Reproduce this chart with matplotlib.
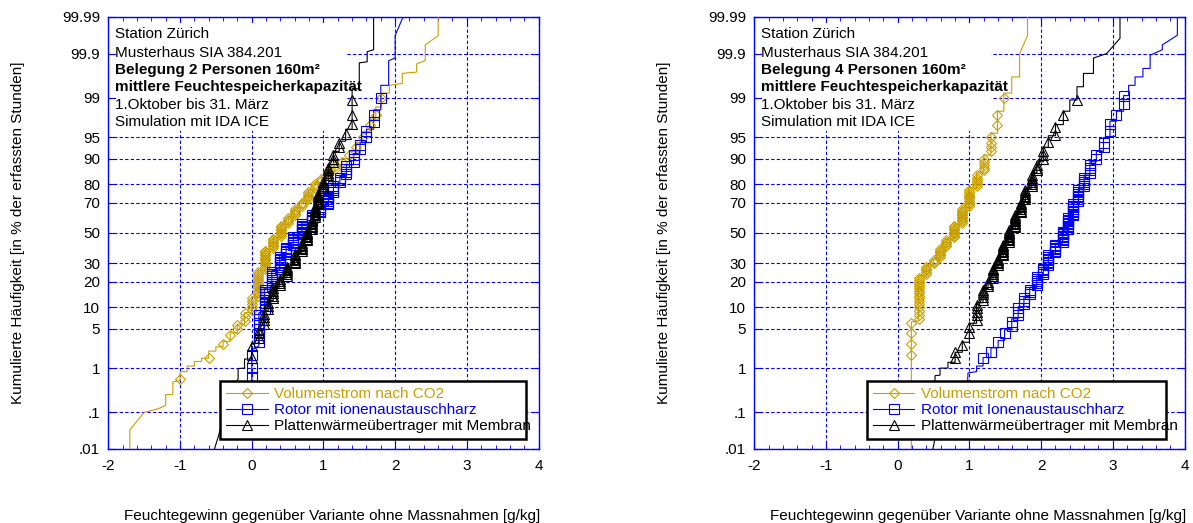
import matplotlib
matplotlib.use("Agg")
import matplotlib.pyplot as plt
from matplotlib.lines import Line2D
from matplotlib.patches import Rectangle
from matplotlib.ticker import MultipleLocator
from statistics import NormalDist

plt.rcParams['font.family'] = ['Liberation Sans', 'DejaVu Sans']
plt.rcParams['axes.unicode_minus'] = False

# probability axis (cumulative % of counted hours)
p_ticks = [0.01, 0.1, 1, 5, 10, 20, 30, 50, 70, 80, 90, 95, 99, 99.9, 99.99]
p_labels = ['.01', '.1', '1', '5', '10', '20', '30', '50', '70', '80', '90', '95', '99', '99.9', '99.99']
x_ticks = [-2, -1, 0, 1, 2, 3, 4]

labels_2p = ['Volumenstrom nach CO2', 'Rotor mit ionenaustauschharz', 'Plattenwärmeübertrager mit Membran']
labels_4p = ['Volumenstrom nach CO2', 'Rotor mit Ionenaustauschharz', 'Plattenwärmeübertrager mit Membran']
colors = ['#C8A000', '#0000FF', '#000000']
markers = ['D', 's', '^']
msizes = [5.5, 7, 7.5]

info_2p = ['Station Zürich', 'Musterhaus SIA 384.201', 'Belegung 2 Personen 160m²',
           'mittlere Feuchtespeicherkapazität', '1.Oktober bis 31. März', 'Simulation mit IDA ICE']
info_4p = ['Station Zürich', 'Musterhaus SIA 384.201', 'Belegung 4 Personen 160m²',
           'mittlere Feuchtespeicherkapazität', '1.Oktober bis 31. März', 'Simulation mit IDA ICE']

xlabel = 'Feuchtegewinn gegenüber Variante ohne Massnahmen [g/kg]'
ylabel = 'Kumulierte Häufigkeit [in % der erfassten Stunden]'

# ---- 2 Personen: curve vertices (x [g/kg], cumulative %) ----
co2_2p = [(-1.70, .01), (-1.70, .035), (-1.50, .10), (-1.30, .125), (-1.20, .15), (-1.20, .27),
          (-1.10, .27), (-1.10, .52), (-1.00, .55), (-1.00, .85), (-0.90, .85), (-0.90, 1.1),
          (-0.80, 1.1), (-0.80, 1.35), (-0.70, 1.35), (-0.70, 1.55), (-0.60, 1.55), (-0.60, 2.1),
          (-0.50, 2.1), (-0.50, 2.5), (-0.40, 2.5), (-0.40, 3.1), (-0.30, 3.1), (-0.30, 4.3),
          (-0.20, 4.3), (-0.20, 5.8), (-0.10, 5.8), (-0.10, 8.5), (0.00, 8.5), (0.00, 13.5),
          (0.09, 13.5), (0.09, 26), (0.19, 26), (0.19, 39), (0.30, 39), (0.30, 47), (0.41, 47),
          (0.41, 56), (0.51, 56), (0.51, 61), (0.60, 61), (0.60, 67), (0.70, 67), (0.70, 71),
          (0.79, 71), (0.79, 77), (0.88, 77), (0.88, 80.5), (0.97, 80.5), (0.97, 83), (1.06, 83),
          (1.06, 85.5), (1.16, 85.5), (1.16, 88), (1.26, 88), (1.26, 90), (1.36, 90), (1.36, 92),
          (1.46, 92), (1.46, 94), (1.55, 94), (1.55, 96), (1.65, 96), (1.65, 97.5), (1.73, 97.5),
          (1.73, 98.5), (1.81, 98.5), (1.81, 99.2), (1.92, 99.2), (1.92, 99.45), (2.10, 99.5),
          (2.10, 99.7), (2.30, 99.72), (2.30, 99.82), (2.42, 99.85), (2.42, 99.94), (2.60, 99.966),
          (2.60, 99.99)]
rotor_2p = [(0.00, .05), (0.00, 2.2), (0.10, 2.6), (0.10, 8.5), (0.18, 8.8), (0.18, 17), (0.28, 17.5),
            (0.28, 26), (0.39, 26), (0.39, 35), (0.48, 35), (0.48, 41), (0.58, 41), (0.58, 48),
            (0.70, 48), (0.70, 57), (0.84, 57), (0.84, 63), (0.95, 63), (0.95, 68), (1.07, 68),
            (1.07, 75), (1.14, 75), (1.14, 80), (1.23, 80), (1.23, 83.5), (1.32, 83.5), (1.32, 88),
            (1.42, 88), (1.42, 91.5), (1.51, 91.5), (1.51, 94), (1.60, 94), (1.60, 96.3), (1.70, 96.3),
            (1.70, 98.3), (1.80, 98.3), (1.80, 99.45), (1.91, 99.45), (1.91, 99.85), (2.00, 99.87),
            (2.00, 99.966), (2.11, 99.99)]
platte_2p = [(-0.52, .01), (-0.46, .025), (-0.30, .3), (-0.19, .6), (-0.19, .98), (-0.10, 1.0),
             (-0.10, 1.5), (0.00, 1.5), (0.00, 2.8), (0.10, 2.9), (0.10, 5.0), (0.17, 5.0), (0.17, 9.0),
             (0.23, 9.0), (0.23, 12.3), (0.30, 12.3), (0.30, 17.6), (0.39, 17.6), (0.39, 22),
             (0.49, 22), (0.49, 29), (0.60, 29), (0.60, 37), (0.70, 37), (0.70, 44), (0.77, 44),
             (0.77, 52), (0.84, 52), (0.84, 60), (0.88, 60), (0.88, 68), (0.93, 68), (0.93, 76),
             (1.00, 76), (1.00, 82), (1.07, 82), (1.07, 88), (1.14, 88), (1.14, 92), (1.22, 92),
             (1.22, 94.3), (1.31, 94.3), (1.31, 96.3), (1.40, 96.3), (1.40, 99.35), (1.50, 99.35),
             (1.50, 99.83), (1.61, 99.84), (1.61, 99.91), (1.70, 99.92), (1.70, 99.99)]

# marker stacks: (x, [cumulative % of each marker on that step])
co2_2p_marks = [(-1.00, [.6]), (-0.60, [1.6]), (-0.40, [2.8]), (-0.30, [3.9]), (-0.20, [5.0, 5.6]),
                (-0.10, [6.5, 7.5, 8.3]), (0.00, [9.2, 10.2, 11.2, 12.2, 13.2]),
                (0.09, [14, 15, 16, 17, 18, 19, 20, 21, 22, 23, 24, 25]),
                (0.19, [27, 28, 29, 30, 31, 32, 33, 34, 35, 36, 37, 38]),
                (0.30, [40, 41, 42, 43, 44, 45, 46]), (0.41, [48, 49, 50, 51, 52, 53, 54, 55]),
                (0.51, [57, 58, 59, 60]), (0.60, [62, 63, 64, 65, 66]), (0.70, [68, 69, 70]),
                (0.79, [72, 73, 74, 75, 76]), (0.88, [78, 79, 80]), (0.97, [81.5, 82.5]),
                (1.06, [84, 85]), (1.16, [86.5, 87.5]), (1.26, [89]), (1.36, [91]), (1.46, [93]),
                (1.55, [95]), (1.65, [96.8]), (1.73, [97.9]), (1.81, [99.0])]
rotor_2p_marks = [(0.00, [.66, 1.0, 1.76]), (0.10, [3, 4, 5, 6, 7, 8]),
                  (0.18, [9.5, 10.5, 11.5, 12.5, 13.5, 14.5, 15.5, 16.5]),
                  (0.28, [18, 19, 20, 21, 22, 23, 24, 25]), (0.39, [27, 28, 29, 30, 31, 32, 33, 34]),
                  (0.48, [36, 37, 38, 39, 40]), (0.58, [42, 43, 44, 45, 46, 47]),
                  (0.70, [49, 50, 51, 52, 53, 54, 55, 56]), (0.84, [58, 59, 60, 61, 62]),
                  (0.95, [64, 65, 66, 67]), (1.07, [69, 70, 71, 72, 73, 74]), (1.14, [76, 77, 78, 79]),
                  (1.23, [81, 82, 83]), (1.32, [84.5, 85.5, 86.5, 87.5]), (1.42, [89, 90, 91]),
                  (1.51, [92.5, 93.5]), (1.60, [95, 96]), (1.70, [97.2, 97.9]), (1.80, [99.0])]
platte_2p_marks = [(0.00, [1.6, 2.6]), (0.10, [3.5, 4.2, 4.8]), (0.17, [5.8, 6.6, 7.4, 8.2]),
                   (0.23, [9.5, 10.5, 11.5]), (0.30, [13, 14, 15, 16, 17]),
                   (0.39, [18.5, 19.5, 20.5, 21.5]), (0.49, [23, 24, 25, 26, 27, 28]),
                   (0.60, [30, 31, 32, 33, 34, 35, 36]), (0.70, [38, 39, 40, 41, 42, 43]),
                   (0.77, [45, 46, 47, 48, 49, 50, 51]), (0.84, [53, 54, 55, 56, 57, 58, 59]),
                   (0.88, [61, 62, 63, 64, 65, 66, 67]), (0.93, [69, 70, 71, 72, 73, 74, 75]),
                   (1.00, [77, 78, 79, 80, 81]), (1.07, [83, 84, 85, 86, 87]), (1.14, [89, 90, 91]),
                   (1.22, [93, 94]), (1.31, [95.6]), (1.40, [97, 97.9, 98.9])]

# ---- 4 Personen ----
co2_4p = [(0.19, .01), (0.19, 6.3), (0.29, 6.5), (0.29, 23), (0.40, 23), (0.40, 29), (0.50, 29),
          (0.50, 33), (0.59, 33), (0.59, 40), (0.68, 40), (0.68, 46), (0.79, 46), (0.79, 56),
          (0.89, 56), (0.89, 67), (0.99, 67), (0.99, 78), (1.10, 78), (1.10, 85), (1.20, 85),
          (1.20, 91), (1.30, 91), (1.30, 95.7), (1.39, 95.7), (1.39, 98.2), (1.48, 98.2), (1.48, 99.2),
          (1.59, 99.2), (1.59, 99.64), (1.70, 99.64), (1.70, 99.9), (1.81, 99.966), (1.81, 99.99)]
rotor_4p = [(0.95, .05), (0.98, 0.8), (1.10, 0.85), (1.10, 1.1), (1.19, 1.1), (1.19, 1.6), (1.30, 1.6),
            (1.30, 2.4), (1.40, 2.4), (1.40, 3.2), (1.49, 3.2), (1.49, 4.8), (1.59, 4.8), (1.59, 7.0),
            (1.68, 7.0), (1.68, 10.2), (1.76, 10.2), (1.76, 13.5), (1.84, 13.5), (1.84, 17.5),
            (1.94, 17.5), (1.94, 23), (2.03, 23), (2.03, 28), (2.10, 28), (2.10, 36), (2.20, 36),
            (2.20, 43), (2.30, 43), (2.30, 52), (2.38, 52), (2.38, 61), (2.45, 61), (2.45, 70),
            (2.52, 70), (2.52, 78), (2.60, 78), (2.60, 84), (2.68, 84), (2.68, 89), (2.77, 89),
            (2.77, 92), (2.87, 92), (2.87, 95), (2.96, 95), (2.96, 97.3), (3.05, 97.3), (3.05, 98.2),
            (3.15, 98.2), (3.15, 99.1), (3.22, 99.1), (3.22, 99.45), (3.31, 99.45), (3.31, 99.64),
            (3.42, 99.64), (3.42, 99.77), (3.52, 99.77), (3.52, 99.89), (3.69, 99.92), (3.69, 99.94),
            (3.90, 99.967), (3.90, 99.99)]
platte_4p = [(0.49, .01), (0.52, .02), (0.52, 0.7), (0.59, 0.72), (0.59, 1.0), (0.70, 1.0), (0.70, 1.3),
             (0.80, 1.3), (0.80, 2.0), (0.90, 2.0), (0.90, 3.0), (1.00, 3.0), (1.00, 6.0), (1.10, 6.0),
             (1.10, 11.5), (1.19, 11.5), (1.19, 17), (1.26, 17), (1.26, 21), (1.33, 21), (1.33, 28),
             (1.40, 28), (1.40, 34), (1.47, 34), (1.47, 43), (1.55, 43), (1.55, 53), (1.64, 53),
             (1.64, 63), (1.72, 63), (1.72, 71), (1.78, 71), (1.78, 78), (1.87, 78), (1.87, 85),
             (1.94, 85), (1.94, 89), (2.03, 89), (2.03, 93), (2.10, 93), (2.10, 95.3), (2.20, 95.3),
             (2.20, 96.9), (2.31, 96.9), (2.31, 98.2), (2.40, 98.2), (2.40, 98.9), (2.50, 98.9),
             (2.50, 99.41), (2.59, 99.41), (2.59, 99.7), (2.73, 99.7), (2.73, 99.87), (2.915, 99.9),
             (3.10, 99.96), (3.10, 99.99)]

co2_4p_marks = [(0.19, [1.76, 2.85, 4.2, 6.0]),
                (0.29, [7, 8, 9, 10, 11, 12, 13, 14, 15, 16, 17, 18, 19, 20, 21, 22]),
                (0.40, [24, 25, 26, 27, 28]), (0.50, [30, 31, 32]), (0.59, [34, 35, 36, 37, 38, 39]),
                (0.68, [41, 42, 43, 44, 45]), (0.79, [47, 48, 49, 50, 51, 52, 53, 54, 55]),
                (0.89, [57, 58, 59, 60, 61, 62, 63, 64, 65, 66]),
                (0.99, [68, 69, 70, 71, 72, 73, 74, 75, 76, 77]), (1.10, [79, 80, 81, 82, 83, 84]),
                (1.20, [86, 87, 88, 89, 90]), (1.30, [92, 93, 94, 95]), (1.39, [96.8, 97.9]),
                (1.48, [99.0])]
rotor_4p_marks = [(1.19, [1.6]), (1.30, [2.0]), (1.40, [3.0]), (1.49, [4.2]), (1.59, [5.5, 6.3]),
                  (1.68, [7.8, 8.8, 9.8]), (1.76, [11, 12, 13]), (1.84, [14.5, 15.5, 16.5]),
                  (1.94, [18.5, 19.5, 20.5, 21.5, 22.5]), (2.03, [24, 25, 26, 27]),
                  (2.10, [29, 30, 31, 32, 33, 34, 35]), (2.20, [37, 38, 39, 40, 41, 42]),
                  (2.30, [44, 45, 46, 47, 48, 49, 50, 51]), (2.38, [53, 54, 55, 56, 57, 58, 59, 60]),
                  (2.45, [62, 63, 64, 65, 66, 67, 68, 69]), (2.52, [71, 72, 73, 74, 75, 76, 77]),
                  (2.60, [79, 80, 81, 82, 83]), (2.68, [85, 86, 87, 88]), (2.77, [90, 91]),
                  (2.87, [93, 94]), (2.96, [96, 97]), (3.05, [97.9]), (3.15, [98.7, 99.1])]
platte_4p_marks = [(0.80, [1.6, 2.0]), (0.90, [2.7]), (1.00, [4.2, 5.3]),
                   (1.10, [6.8, 7.8, 8.8, 9.8, 10.8]), (1.19, [12.5, 13.5, 14.5, 15.5, 16.5]),
                   (1.26, [18, 19, 20]), (1.33, [22, 23, 24, 25, 26, 27]), (1.40, [29, 30, 31, 32, 33]),
                   (1.47, [35, 36, 37, 38, 39, 40, 41, 42]), (1.55, [44, 45, 46, 47, 48, 49, 50, 51, 52]),
                   (1.64, [54, 55, 56, 57, 58, 59, 60, 61, 62]), (1.72, [64, 65, 66, 67, 68, 69, 70]),
                   (1.78, [72, 73, 74, 75, 76, 77]), (1.87, [79, 80, 81, 82, 83, 84]),
                   (1.94, [86, 87, 88]), (2.03, [90, 91, 92]), (2.10, [94.2]), (2.20, [95.5, 96.6]),
                   (2.31, [97.9]), (2.50, [98.9])]


def probit(p):
    return NormalDist().inv_cdf(p / 100.0)


def draw_panel(ax, curves, marks, labels, info, legend_box):
    for pts, mk, c, m, ms in zip(curves, marks, colors, markers, msizes):
        xs = [v[0] for v in pts]
        zs = [probit(v[1]) for v in pts]
        ax.plot(xs, zs, color=c, lw=0.8, zorder=3)
        mx, mz = [], []
        for x, plist in mk:
            for p in plist:
                mx.append(x)
                mz.append(probit(p))
        ax.plot(mx, mz, ls='none', marker=m, ms=ms, mfc='none', mec=c, mew=0.8, zorder=4)

    ax.set_xlim(-2, 4)
    ax.set_ylim(probit(0.01), probit(99.99))
    ax.set_xticks(x_ticks)
    ax.xaxis.set_minor_locator(MultipleLocator(0.2))
    ax.set_yticks([probit(p) for p in p_ticks])
    ax.set_yticklabels(p_labels)
    ax.tick_params(axis='both', which='both', direction='in', color='blue',
                   labelcolor='black', labelsize=11, top=True, right=True)
    ax.tick_params(axis='x', which='major', length=5, pad=7)
    ax.tick_params(axis='x', which='minor', length=3)
    ax.tick_params(axis='y', which='major', length=5, pad=6)
    for s in ax.spines.values():
        s.set_color('blue')
        s.set_linewidth(1.0)
    ax.set_axisbelow(True)
    ax.grid(True, which='major', color='blue', linestyle=(0, (3, 2)), linewidth=0.8)

    # white area behind the info text
    ax.add_patch(Rectangle((0.017, 0.736), 0.533, 0.25, transform=ax.transAxes,
                           facecolor='white', edgecolor='none', zorder=1))
    ys = [0.9606, 0.9174, 0.8773, 0.8373, 0.7956, 0.7569]
    for i, (t, y) in enumerate(zip(info, ys)):
        ax.text(0.015, y, t, transform=ax.transAxes, fontsize=11, va='center', ha='left',
                fontweight='bold' if i in (2, 3) else 'normal', zorder=5)

    handles = [Line2D([], [], color=c, lw=0.8, marker=m, ms=ms, mfc='none', mec=c, mew=0.8)
               for c, m, ms in zip(colors, markers, msizes)]
    leg = ax.legend(handles, labels, loc='lower left', bbox_to_anchor=legend_box, mode='expand',
                    borderaxespad=0, fontsize=11, frameon=True, fancybox=False, framealpha=1,
                    edgecolor='black', borderpad=0.4, labelspacing=0.12, handlelength=2.7,
                    handletextpad=0.4)
    leg.get_frame().set_linewidth(1.8)
    leg.set_zorder(6)
    for txt, c in zip(leg.get_texts(), colors):
        txt.set_color(c)

    ax.text(1.005, -0.155, xlabel, transform=ax.transAxes, ha='right', va='center', fontsize=11)
    ax.text(-0.211, 0.5, ylabel, transform=ax.transAxes, ha='center', va='center',
            rotation=90, fontsize=11)


fig = plt.figure(figsize=(11.93, 5.23), dpi=100)
ax1 = fig.add_axes([0.0908, 0.1415, 0.3606, 0.826])
ax2 = fig.add_axes([0.6323, 0.1415, 0.3606, 0.826])

draw_panel(ax1, [co2_2p, rotor_2p, platte_2p], [co2_2p_marks, rotor_2p_marks, platte_2p_marks],
           labels_2p, info_2p, (0.26, 0.023, 0.711, 0.1435))
draw_panel(ax2, [co2_4p, rotor_4p, platte_4p], [co2_4p_marks, rotor_4p_marks, platte_4p_marks],
           labels_4p, info_4p, (0.262, 0.023, 0.695, 0.1435))

fig.savefig('out.png', dpi=100)
